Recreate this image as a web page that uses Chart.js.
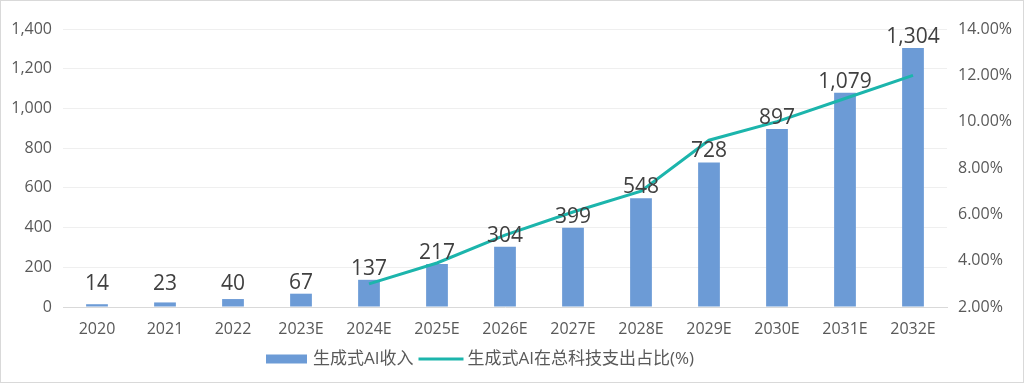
<!DOCTYPE html>
<html>
<head>
<meta charset="utf-8">
<script src="https://cdn.jsdelivr.net/npm/chart.js@4/dist/chart.umd.min.js"></script>
<style>
html,body{margin:0;padding:0;background:#fff;}
#wrap{width:1024px;height:383px;}
</style>
</head>
<body>
<div id="wrap"><canvas id="c" width="1024" height="383"></canvas></div>
<script>
const categories = ['2020','2021','2022','2023E','2024E','2025E','2026E','2027E','2028E','2029E','2030E','2031E','2032E'];
const revenue = [14, 23, 40, 67, 137, 217, 304, 399, 548, 728, 897, 1079, 1304];
const sharePct = [null, null, null, null, 3.0, 3.9, 5.1, 6.1, 7.0, 9.2, 10.0, 11.0, 12.0];
const seriesNames = ['生成式AI收入', '生成式AI在总科技支出占比(%)'];

const FONT = "'Open Sans', 'Noto Sans CJK SC', sans-serif";
const BAR_COLOR = '#6c9bd6';
const LINE_COLOR = '#1cb5ac';

const labelsPlugin = {
  id: 'valueLabels',
  afterDatasetsDraw(chart) {
    const ctx = chart.ctx;
    const meta = chart.getDatasetMeta(0);
    ctx.save();
    ctx.font = '21px ' + FONT;
    ctx.fillStyle = '#404040';
    ctx.textAlign = 'center';
    ctx.textBaseline = 'alphabetic';
    const floorY = chart.scales.y.getPixelForValue(0) - 17;
    meta.data.forEach((bar, i) => {
      const y = Math.min(bar.y - 5, floorY);
      ctx.fillText(revenue[i].toLocaleString('en-US'), bar.x, y);
    });
    ctx.restore();
  }
};

const legendPlugin = {
  id: 'customLegend',
  afterDraw(chart) {
    const ctx = chart.ctx;
    ctx.save();
    ctx.font = '17px ' + FONT;
    ctx.textBaseline = 'middle';
    ctx.textAlign = 'left';
    const cy = 359;
    const w1 = ctx.measureText(seriesNames[0]).width;
    let x = 266;
    ctx.fillStyle = BAR_COLOR;
    ctx.fillRect(x, cy - 4.5, 41, 9);
    x += 47;
    ctx.fillStyle = '#595959';
    ctx.fillText(seriesNames[0], x, cy);
    x += w1 + 5;
    ctx.strokeStyle = LINE_COLOR;
    ctx.lineWidth = 3;
    ctx.beginPath();
    ctx.moveTo(x, cy);
    ctx.lineTo(x + 45, cy);
    ctx.stroke();
    x += 49;
    ctx.fillText(seriesNames[1], x, cy);
    // outer border
    ctx.strokeStyle = '#d9d9d9';
    ctx.lineWidth = 1;
    ctx.strokeRect(0.5, 0.5, chart.width - 1, chart.height - 1);
    ctx.restore();
  }
};

const bgPlugin = {
  id: 'bg',
  beforeDraw(chart) {
    const ctx = chart.ctx;
    ctx.save();
    ctx.fillStyle = '#fff';
    ctx.fillRect(0, 0, chart.width, chart.height);
    ctx.restore();
  }
};

new Chart(document.getElementById('c'), {
  data: {
    labels: categories,
    datasets: [
      {
        type: 'bar',
        label: seriesNames[0],
        data: revenue,
        backgroundColor: BAR_COLOR,
        yAxisID: 'y',
        categoryPercentage: 1,
        barPercentage: 0.32,
        order: 2
      },
      {
        type: 'line',
        label: seriesNames[1],
        data: sharePct,
        borderColor: LINE_COLOR,
        backgroundColor: LINE_COLOR,
        borderWidth: 3,
        pointRadius: 0,
        tension: 0,
        spanGaps: false,
        yAxisID: 'y2',
        order: 1
      }
    ]
  },
  options: {
    responsive: false,
    animation: false,
    layout: { padding: { top: 29, left: 0, right: 0, bottom: 0 } },
    plugins: { legend: { display: false }, tooltip: { enabled: false } },
    scales: {
      x: {
        grid: { display: false, drawTicks: false },
        border: { display: true, color: '#d9d9d9', width: 1 },
        ticks: { color: '#595959', font: { size: 16, family: FONT }, padding: 13, maxRotation: 0, autoSkip: false },
        afterFit(s) { s.height = 76; }
      },
      y: {
        position: 'left',
        min: 0, max: 1400,
        ticks: { stepSize: 200, color: '#595959', font: { size: 16, family: FONT }, padding: 11,
          callback: v => Number(v).toLocaleString('en-US') },
        grid: { color: ctx => ctx.tick && ctx.tick.value === 0 ? 'rgba(0,0,0,0)' : '#efefef', drawTicks: false },
        border: { display: false },
        afterFit(s) { s.width = 63; }
      },
      y2: {
        position: 'right',
        min: 2, max: 14,
        ticks: { stepSize: 2, color: '#595959', font: { size: 16, family: FONT }, padding: 11,
          callback: v => Number(v).toFixed(2) + '%' },
        grid: { display: false, drawTicks: false },
        border: { display: false },
        afterFit(s) { s.width = 77; }
      }
    }
  },
  plugins: [bgPlugin, labelsPlugin, legendPlugin]
});
</script>
</body>
</html>
